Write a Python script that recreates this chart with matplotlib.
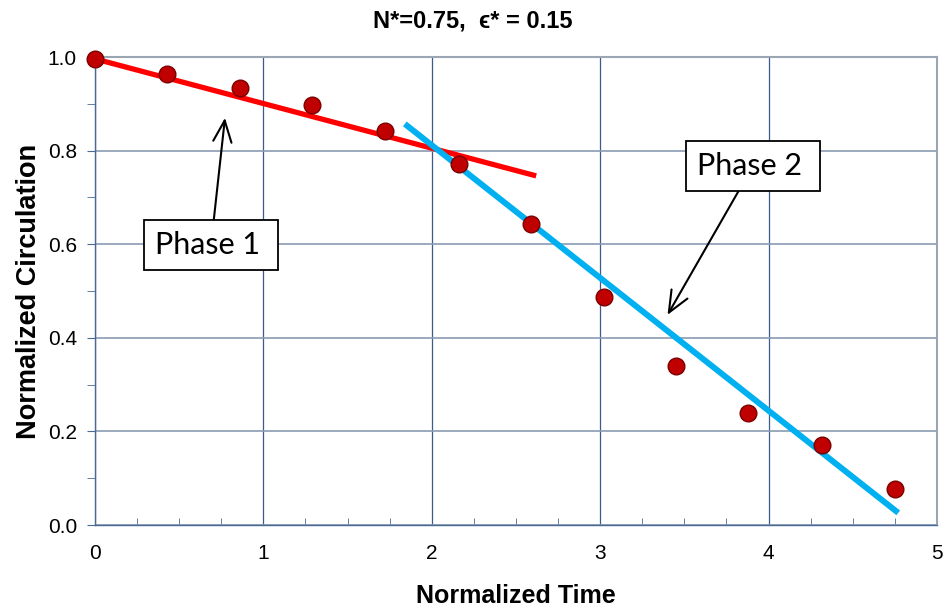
import matplotlib
matplotlib.use("Agg")
import matplotlib.pyplot as plt
from matplotlib.ticker import MultipleLocator

# Data
time = [0.0, 0.43, 0.86, 1.29, 1.72, 2.16, 2.59, 3.02, 3.45, 3.88, 4.32, 4.75]
circ = [0.996, 0.964, 0.934, 0.897, 0.842, 0.771, 0.643, 0.487, 0.340, 0.239, 0.171, 0.077]
phase1_x = [0.0, 2.62]
phase1_y = [0.996, 0.746]
phase2_x = [1.84, 4.77]
phase2_y = [0.857, 0.026]
title = "N*=0.75,  \u03f5* = 0.15"

fig = plt.figure(figsize=(9.45, 6.09), dpi=100)
ax = fig.add_axes([0.1005, 0.1379, 0.891, 0.7685])

fam = ['Liberation Sans', 'DejaVu Sans']

ax.plot(phase1_x, phase1_y, color='#ff0000', lw=3.8, solid_capstyle='butt', zorder=3)
ax.plot(phase2_x, phase2_y, color='#00b0f0', lw=4.3, solid_capstyle='butt', zorder=3)
ax.plot(time, circ, 'o', ms=12, mfc='#c00000', mec='#7a0000', mew=1.0, zorder=4, clip_on=False)

ax.set_xlim(0, 5)
ax.set_ylim(0, 1.0)
ax.xaxis.set_major_locator(MultipleLocator(1))
ax.xaxis.set_minor_locator(MultipleLocator(0.25))
ax.yaxis.set_major_locator(MultipleLocator(0.2))
ax.yaxis.set_minor_locator(MultipleLocator(0.1))
ax.yaxis.set_major_formatter(matplotlib.ticker.FormatStrFormatter('%.1f'))

ax.grid(True, which='major', axis='x', color='#3c5a8c', lw=0.9)
ax.grid(True, which='major', axis='y', color='#8a9bb3', lw=1.2)
ax.set_axisbelow(True)

for s in ['top', 'right']:
    ax.spines[s].set_color('#9aa6b4')
    ax.spines[s].set_linewidth(1.5)
for s in ['left', 'bottom']:
    ax.spines[s].set_color('#4a6a94')
    ax.spines[s].set_linewidth(1.0)

ax.tick_params(axis='x', which='major', direction='in', length=0, pad=14, labelsize=15, colors='#4a6a94', labelcolor='black')
ax.tick_params(axis='x', which='minor', direction='in', length=5, color='#4a6a94')
ax.tick_params(axis='y', which='both', direction='out', length=6, color='#4a6a94', pad=7, labelsize=15, labelcolor='black')
for lbl in ax.get_xticklabels() + ax.get_yticklabels():
    lbl.set_fontfamily(fam)

ax.set_xlabel('Normalized Time', fontsize=18, fontweight='bold', family=fam, labelpad=15)
ax.set_ylabel('Normalized Circulation', fontsize=19.5, fontweight='bold', family=fam, labelpad=4)
fig.text(0.5, 0.965, title, ha='center', va='center', fontsize=17, fontweight='bold', family=fam)

bbox = dict(boxstyle='square,pad=0.36', fc='white', ec='black', lw=1.3)
arrow = dict(arrowstyle='->,head_length=0.7,head_width=0.3', color='black', lw=1.5, shrinkA=0, shrinkB=0)
ax.annotate('Phase 1 ', xy=(0.772, 0.870), xytext=(0.689, 0.598), ha='center', va='center',
            fontsize=22, family=['Lato', 'DejaVu Sans'], bbox=bbox, zorder=5, arrowprops=arrow)
ax.annotate('Phase 2 ', xy=(3.40, 0.449), xytext=(3.907, 0.767), ha='center', va='center',
            fontsize=22, family=['Lato', 'DejaVu Sans'], bbox=bbox, zorder=5, arrowprops=arrow)

fig.savefig('out.png', dpi=100, facecolor='white')
